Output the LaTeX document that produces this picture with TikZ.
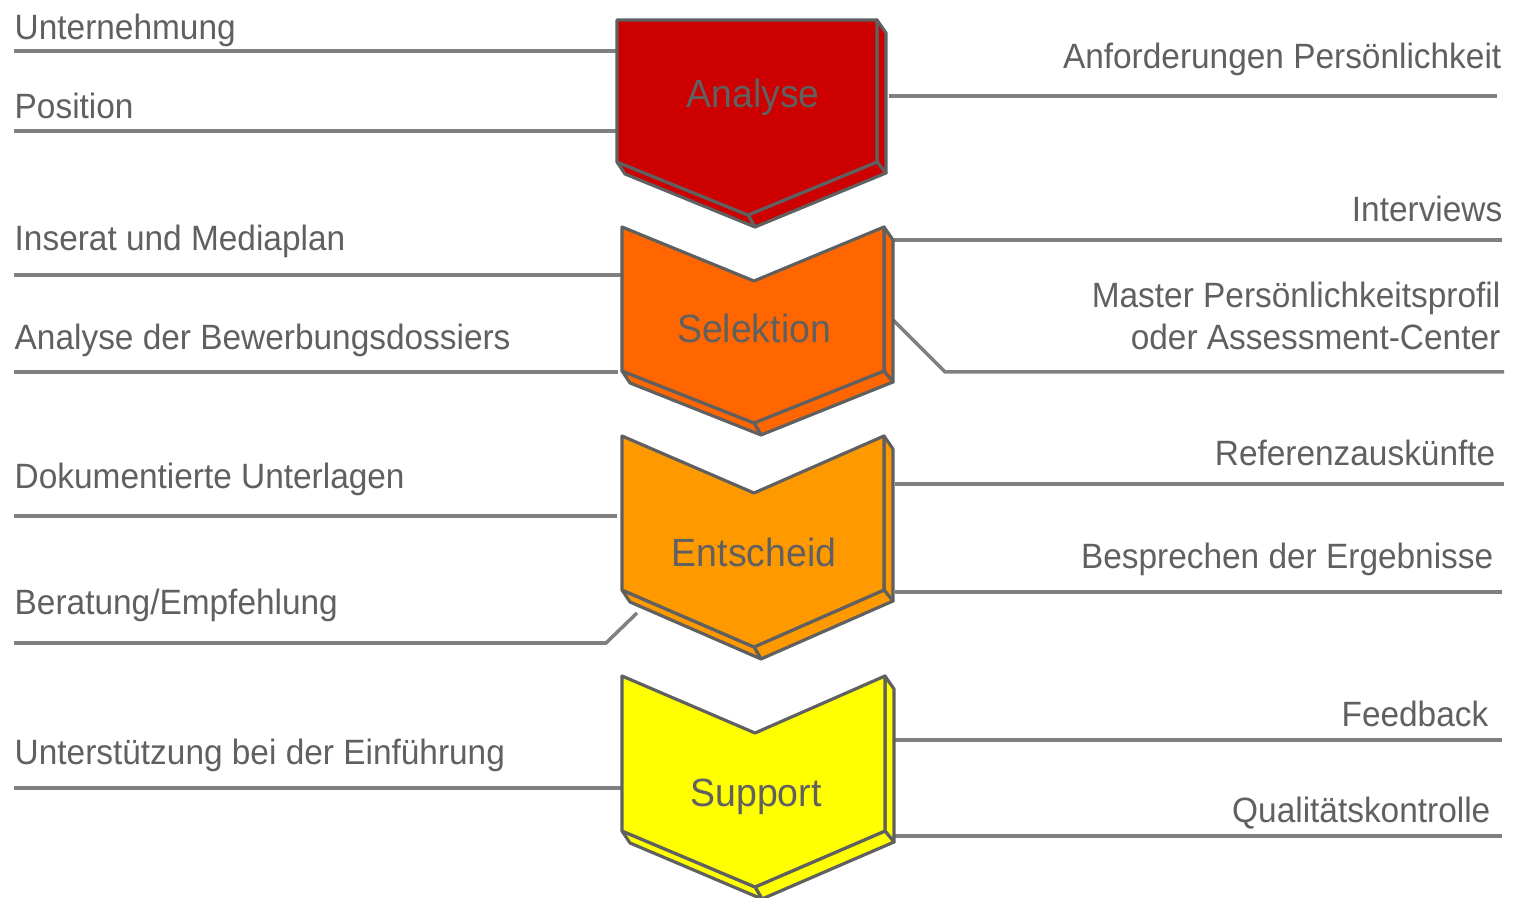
\documentclass[tikz,border=0pt]{standalone}
\usepackage{fontspec}
\setmainfont[FakeStretch=0.95]{Liberation Sans}
\usepackage{tikz}
\usetikzlibrary{calc}
\definecolor{linegray}{RGB}{128,128,128}
\definecolor{textgray}{RGB}{96,96,96}
\definecolor{analysered}{RGB}{204,0,0}
\definecolor{selektionorange}{RGB}{255,102,0}
\definecolor{entscheidorange}{RGB}{255,153,0}
\definecolor{supportyellow}{RGB}{255,255,0}
\tikzset{
	stepface/.style={
		draw=textgray,
		line width=0.9pt,
		line join=round,
	},
	steplabel/.style={
		text=textgray,
		inner sep=0pt,
		anchor=base,
		font=\fontsize{11.2}{13}\selectfont,
	},
	leftlabel/.style={
		text=textgray,
		inner sep=0pt,
		anchor=base west,
		font=\fontsize{10}{12}\selectfont,
	},
	rightlabel/.style={
		text=textgray,
		inner sep=0pt,
		anchor=base east,
		align=right,
		font=\fontsize{10}{12}\selectfont,
	},
	link/.style={
		draw=linegray,
		line width=1pt,
	},
}
% chevron with depth: colour, left, right, top, notch, side bottom, tip, middle
\newcommand{\stepchevron}[8]{
	\path[stepface, fill=#1] (#3,#4) -- (#3+9,#4+13) -- (#3+9,#6+11) -- (#3,#6) -- cycle;
	\path[stepface, fill=#1] (#3,#6) -- (#3+9,#6+11) -- (#8+7,#6+#7+12) -- (#8,#6+#7) -- cycle;
	\path[stepface, fill=#1] (#2,#6) -- (#2+8,#6+12) -- (#8+7,#6+#7+12) -- (#8,#6+#7) -- cycle;
	\path[stepface, fill=#1] (#2,#4) -- (#8,#4+#5) -- (#3,#4) -- (#3,#6) -- (#8,#6+#7) -- (#2,#6) -- cycle;
}

\begin{document}
\begin{tikzpicture}[x=0.01cm, y=-0.01cm]
		\useasboundingbox (0,0) rectangle (1515,898);

		\coordinate (leftedge) at (14,0);
		\coordinate (rightedge) at (1502,0);

		\coordinate (analyse-w1) at (622,51);
		\coordinate (analyse-w2) at (622,131);
		\coordinate (analyse-e1) at (889,96);
		\coordinate (selektion-w1) at (622,275);
		\coordinate (selektion-w2) at (618,372);
		\coordinate (selektion-e1) at (894,240);
		\coordinate (selektion-e2) at (893,320);
		\coordinate (entscheid-w1) at (617,516);
		\coordinate (entscheid-w2) at (637,613);
		\coordinate (entscheid-e1) at (895,484);
		\coordinate (entscheid-e2) at (895,592);
		\coordinate (support-w1) at (622,788);
		\coordinate (support-e1) at (895,740);
		\coordinate (support-e2) at (895,836);
		\coordinate (profil-knee) at (945,372);
		\coordinate (beratung-knee) at (606,643);

		\node[leftlabel]    (unternehmung) at (14,40) {Unternehmung};
		\node[leftlabel]    (position) at (14,119) {Position};
		\node[leftlabel]    (inserat) at (14,251) {Inserat und Mediaplan};
		\node[leftlabel]    (dossiers) at (14,350) {Analyse der Bewerbungsdossiers};
		\node[leftlabel]    (unterlagen) at (14,489) {Dokumentierte Unterlagen};
		\node[leftlabel]    (beratung) at (14,615) {Beratung/Empfehlung};
		\node[leftlabel]    (einfuehrung) at (14,765) {Unterstützung bei der Einführung};

		\node[rightlabel]   (anforderungen) at (1502,69) {Anforderungen Persönlichkeit};
		\node[rightlabel]   (interviews) at (1503,222) {Interviews};
		\node[rightlabel]   (profil) at (1501,350) {Master Persönlichkeitsprofil\\oder Assessment-Center};
		\node[rightlabel]   (referenzen) at (1496,466) {Referenzauskünfte};
		\node[rightlabel]   (besprechen) at (1494,569) {Besprechen der Ergebnisse};
		\node[rightlabel]   (feedback) at (1489,727) {Feedback};
		\node[rightlabel]   (qualitaet) at (1491,823) {Qualitätskontrolle};

		\draw[link]         (leftedge |- analyse-w1) -- (analyse-w1);
		\draw[link]         (leftedge |- analyse-w2) -- (analyse-w2);
		\draw[link]         (leftedge |- selektion-w1) -- (selektion-w1);
		\draw[link]         (leftedge |- selektion-w2) -- (selektion-w2);
		\draw[link]         (leftedge |- entscheid-w1) -- (entscheid-w1);
		\draw[link]         (leftedge |- beratung-knee) -- (beratung-knee) -- (entscheid-w2);
		\draw[link]         (leftedge |- support-w1) -- (support-w1);

		\draw[link]         (analyse-e1) -- ([xshift=-0.05cm]rightedge |- analyse-e1);
		\draw[link]         (selektion-e1) -- (rightedge |- selektion-e1);
		\draw[link]         (selektion-e2) -- (profil-knee) -- ([xshift=0.02cm]rightedge |- profil-knee);
		\draw[link]         (entscheid-e1) -- ([xshift=0.02cm]rightedge |- entscheid-e1);
		\draw[link]         (entscheid-e2) -- (rightedge |- entscheid-e2);
		\draw[link]         (support-e1) -- (rightedge |- support-e1);
		\draw[link]         (support-e2) -- (rightedge |- support-e2);

		\stepchevron{analysered}{617}{877}{20}{0}{162}{53}{748}
		\stepchevron{selektionorange}{622}{884}{227}{54}{371}{52}{754}
		\stepchevron{entscheidorange}{622}{884}{436}{57}{590}{57}{754}
		\stepchevron{supportyellow}{622}{885}{676}{57}{831}{56}{755}

		\node[steplabel]    (analyse) at (753,108) {Analyse};
		\node[steplabel]    (selektion) at (754,343) {Selektion};
		\node[steplabel]    (entscheid) at (754,567) {Entscheid};
		\node[steplabel]    (support) at (756,807) {Support};

	\end{tikzpicture}
\end{document}
